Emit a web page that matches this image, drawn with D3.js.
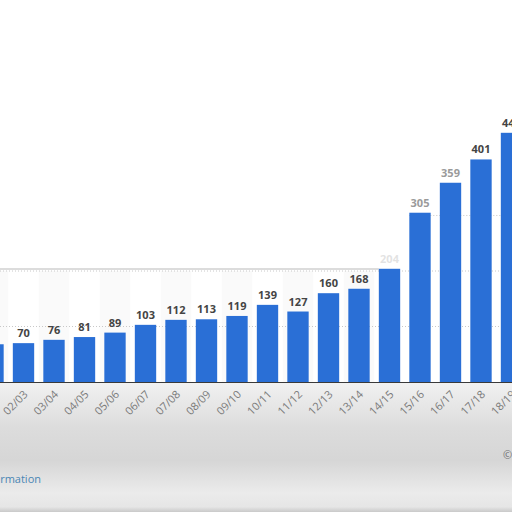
<!DOCTYPE html>
<html lang="en">
<head>
    <meta charset="utf-8">
    <title></title>
    <script src="https://d3js.org/d3.v7.min.js"></script>
    <style type="text/css">
        body{ margin: 0; background: #fff; }
        svg{ display: block; }
        .vals{ font-family: "Open Sans", sans-serif; font-size: 11px; font-weight: bold; }
        .ticks{ font-family: "Open Sans", sans-serif; font-size: 11px; fill: #7a7a7a; }
    </style>
</head>
<body>
    <div id="frame"></div>
    <script type="text/javascript">

        // seasons and values
        const seasons = ["01/02","02/03","03/04","04/05","05/06","06/07","07/08","08/09","09/10",
                         "10/11","11/12","12/13","13/14","14/15","15/16","16/17","17/18","18/19"];
        const values = [68, 70, 76, 81, 89, 103, 112, 113, 119, 139, 127, 160, 168, 204, 305, 359, 401, 449];
        const gridValues = [100, 200, 300];
        const gridStart = ["01/02", "01/02", "15/16"];

        const w = 512, h = 512;
        const baseY = 382;

        const svg = d3.select("#frame").append("svg")
            .attr("width", w)
            .attr("height", h);

        const defs = svg.append("defs");
        const grad = defs.append("linearGradient")
            .attr("id", "bottomGrey")
            .attr("x1", 0).attr("y1", 0).attr("x2", 0).attr("y2", 1);
        grad.append("stop").attr("offset", "0%").attr("stop-color", "#f1f1f1");
        grad.append("stop").attr("offset", "35%").attr("stop-color", "#dcdcdc");
        grad.append("stop").attr("offset", "60%").attr("stop-color", "#d6d6d6");
        grad.append("stop").attr("offset", "85%").attr("stop-color", "#ebebeb");
        grad.append("stop").attr("offset", "96%").attr("stop-color", "#e6e6e6");
        grad.append("stop").attr("offset", "100%").attr("stop-color", "#c9c9c9");

        const x = d3.scaleBand()
            .domain(seasons)
            .range([-22.25, 526.75])
            .paddingInner(0.3)
            .paddingOuter(0.15);

        const y = d3.scaleLinear()
            .domain([0, 500])
            .range([baseY, baseY - 277.5]);

        // grey smear under the axis
        svg.append("rect")
            .attr("x", 0).attr("y", baseY + 1)
            .attr("width", w).attr("height", h - baseY - 1)
            .attr("fill", "url(#bottomGrey)");

        // faint column stripes in the lower plot panel
        svg.selectAll("rect.stripe")
            .data(seasons.filter((d, i) => i % 2 == 0 && i < 13))
            .enter()
            .append("rect")
            .attr("class", "stripe")
            .attr("x", d => x(d) - x.step() * 0.15)
            .attr("y", y(200))
            .attr("width", x.step())
            .attr("height", baseY - y(200))
            .attr("fill", "#fafafa");

        // dotted gridlines
        svg.selectAll("line.grid")
            .data(gridValues)
            .enter()
            .append("line")
            .attr("class", "grid")
            .attr("x1", (d, i) => Math.max(0, x(gridStart[i])))
            .attr("x2", w)
            .attr("y1", d => y(d)).attr("y2", d => y(d))
            .attr("stroke", "#c8c8c8")
            .attr("stroke-dasharray", "1,2");

        // panel edge at 200
        svg.append("line")
            .attr("x1", 0).attr("x2", x("14/15"))
            .attr("y1", y(200) - 2).attr("y2", y(200) - 2)
            .attr("stroke", "#d0d0d0")
            .attr("stroke-width", 1.5);

        // bars
        svg.selectAll("rect.bar")
            .data(values)
            .enter()
            .append("rect")
            .attr("class", "bar")
            .attr("x", (d, i) => x(seasons[i]))
            .attr("y", d => y(d))
            .attr("width", x.bandwidth())
            .attr("height", d => baseY - y(d))
            .attr("fill", "#2a6fd6");

        // baseline
        svg.append("line")
            .attr("x1", 0).attr("x2", w)
            .attr("y1", baseY + 0.5).attr("y2", baseY + 0.5)
            .attr("stroke", "#3a3a3a");

        // value labels
        svg.selectAll("text.vals")
            .data(values)
            .enter()
            .append("text")
            .attr("class", "vals")
            .attr("x", (d, i) => x(seasons[i]) + x.bandwidth() / 2)
            .attr("y", d => y(d) - 6)
            .attr("text-anchor", "middle")
            .attr("fill", (d, i) => (i == 14 || i == 15) ? "#9a9a9a" : "#444")
            .attr("opacity", (d, i) => i == 13 ? 0.15 : 1)
            .text(d => d);

        // season labels, rotated
        svg.selectAll("text.ticks")
            .data(seasons)
            .enter()
            .append("text")
            .attr("class", "ticks")
            .attr("text-anchor", "end")
            .attr("transform", d => "translate(" + (x(d) + x.bandwidth() / 2 + 5) + "," + (baseY + 13) + ") rotate(-45)")
            .text(d => d);

        // footer bits
        svg.append("text")
            .attr("x", 41).attr("y", 483)
            .attr("text-anchor", "end")
            .attr("font-family", "Open Sans, sans-serif")
            .attr("font-size", "11px")
            .attr("fill", "#4a86b4")
            .text("Additional Information");

        svg.append("text")
            .attr("x", 503).attr("y", 459)
            .attr("font-family", "Open Sans, sans-serif")
            .attr("font-size", "11px")
            .attr("fill", "#707070")
            .text("© Statista 2019");

    </script>
</body>
</html>
